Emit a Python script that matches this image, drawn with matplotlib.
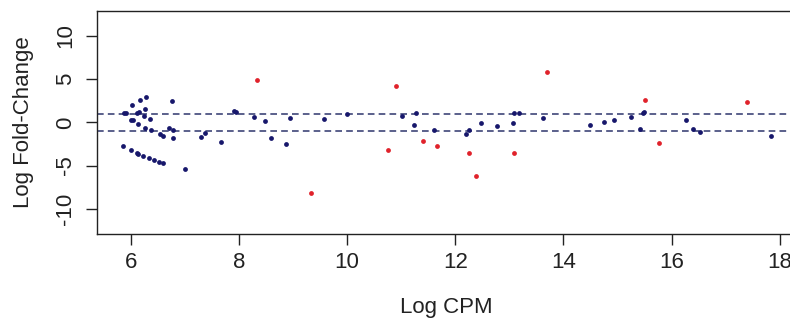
import numpy as np
import matplotlib.pyplot as plt

plt.rcParams['font.family'] = ['Liberation Sans', 'DejaVu Sans']
plt.rcParams['axes.unicode_minus'] = False

# non-significant tags (blue)
logcpm_ns = [5.86, 6.00, 6.11, 6.13, 6.23, 6.34, 6.43, 6.52, 6.60, 7.01,
             5.88, 5.91, 6.03, 6.17, 6.28, 6.77, 6.01, 6.04, 6.11, 6.16,
             6.25, 6.27, 6.36, 6.13, 6.26, 6.37, 6.54, 6.60, 6.71, 6.79,
             6.78, 7.31, 7.38, 7.68, 7.92, 7.95, 8.29, 8.48, 8.60, 8.87,
             8.95, 9.57, 10.00, 11.02, 11.27, 11.24, 11.60, 12.20, 12.25, 12.47,
             12.77, 13.06, 13.09, 13.17, 13.62, 14.49, 14.75, 14.93, 15.24, 15.42,
             15.47, 15.49, 16.26, 16.39, 16.53, 17.84]
logfc_ns = [-2.69, -3.19, -3.57, -3.62, -3.88, -4.11, -4.34, -4.57, -4.73, -5.34,
            1.08, 1.08, 2.04, 2.54, 2.93, 2.42, 0.31, 0.27, 1.08, 1.20,
            0.74, 1.55, 0.35, -0.23, -0.61, -0.92, -1.38, -1.61, -0.65, -0.84,
            -1.80, -1.73, -1.23, -2.30, 1.27, 1.20, 0.58, 0.12, -1.84, -2.49,
            0.50, 0.39, 1.00, 0.77, 1.12, -0.25, -0.84, -1.34, -0.88, -0.07,
            -0.46, -0.12, 1.04, 1.08, 0.47, -0.25, 0.00, 0.27, 0.58, -0.80,
            1.12, 1.15, 0.31, -0.73, -1.07, -1.57]

# differentially expressed tags (red)
logcpm_de = [8.33, 9.34, 10.76, 10.91, 11.40, 11.67, 12.26, 12.38, 13.09, 13.70,
             15.51, 15.77, 17.40]
logfc_de = [4.85, -8.22, -3.17, 4.20, -2.15, -2.73, -3.53, -6.23, -3.50, 5.81,
            2.62, -2.38, 2.39]

fc_cutoff = [-1, 1]

fig = plt.figure(figsize=(7.9, 3.22), dpi=100)
ax = fig.add_axes([0.1228, 0.2733, 0.885, 0.6935])

ax.scatter(logcpm_ns, logfc_ns, s=12, color='#17176b', linewidths=0, zorder=3)
ax.scatter(logcpm_de, logfc_de, s=12, color='#e0222b', linewidths=0, zorder=3)
for h in fc_cutoff:
    ax.axhline(h, color='#3e4578', lw=1.2, linestyle=(0, (4, 2.5)), zorder=2)

ax.set_xlim(5.38, 18.3)
ax.set_ylim(-12.9, 12.9)
ax.set_xticks([6, 8, 10, 12, 14, 16, 18])
ax.set_yticks([-10, -5, 0, 5, 10])

for sp in ax.spines.values():
    sp.set_linewidth(1.0)
    sp.set_color('#222222')

ax.tick_params(axis='both', length=8, width=1.0, color='#222222',
               labelsize=16, labelcolor='#222222')
ax.tick_params(axis='x', pad=5)
ax.tick_params(axis='y', pad=7)
plt.setp(ax.get_yticklabels(), rotation=90, va='center')

ax.set_xlabel('Log CPM', fontsize=16, color='#222222', labelpad=17)
ax.set_ylabel('Log Fold-Change', fontsize=16, color='#222222', labelpad=15)

fig.savefig('out.png', dpi=100)
